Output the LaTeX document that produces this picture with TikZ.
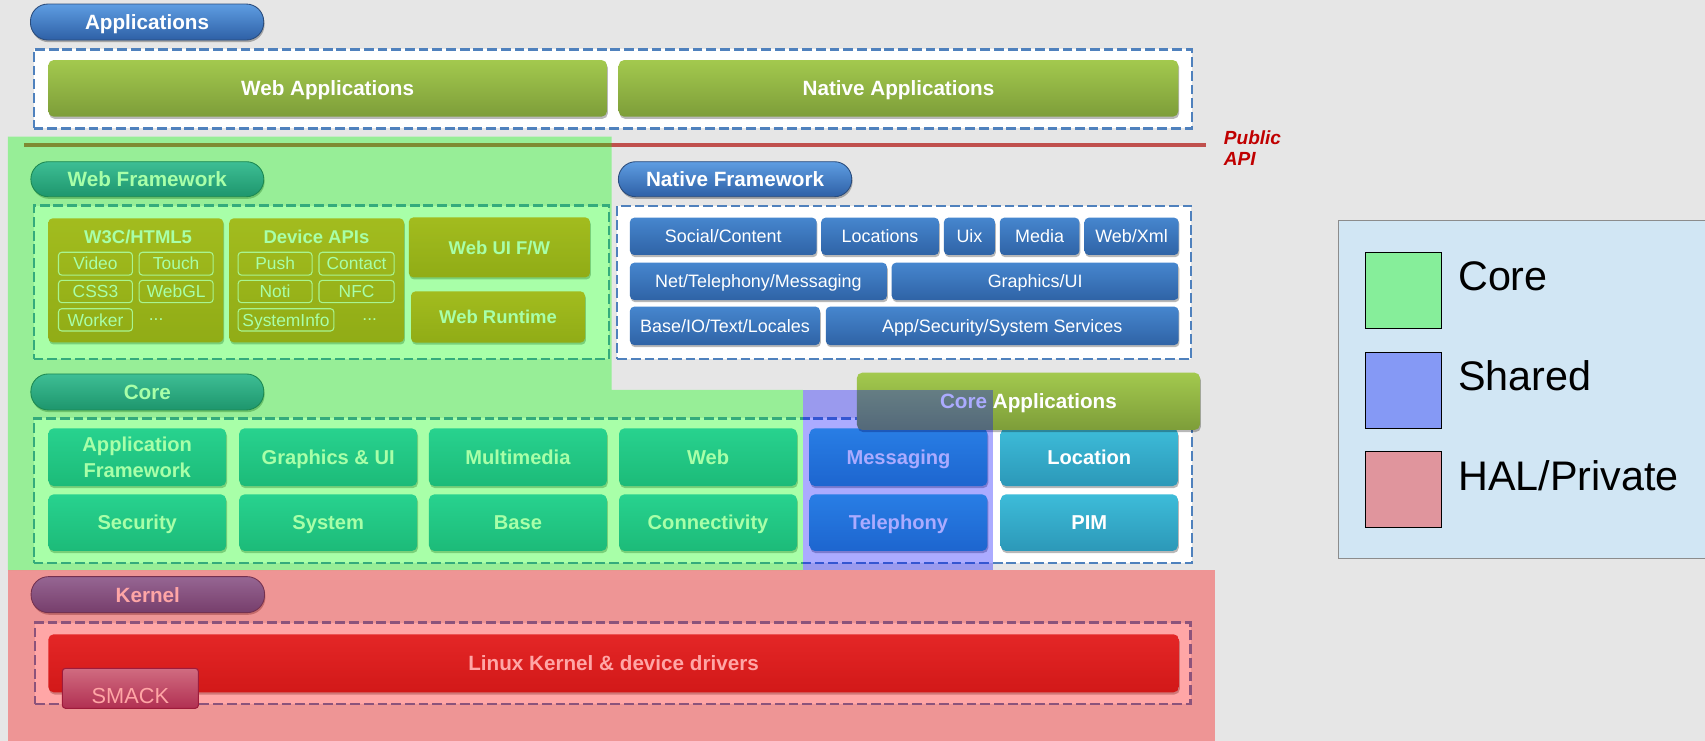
\documentclass[tikz,border=0pt]{standalone}
\usepackage{fontspec}
\setmainfont{Liberation Sans}
\usetikzlibrary{shadows}
\definecolor{bggrey}{HTML}{E6E6E6}
\definecolor{dashblue}{HTML}{4F81BD}
\definecolor{appT}{HTML}{A3C94E}
\definecolor{appB}{HTML}{7D9D39}
\definecolor{pillT}{HTML}{5E9DE2}
\definecolor{pillB}{HTML}{2E60A6}
\definecolor{pillD}{HTML}{2A4C7C}
\definecolor{natT}{HTML}{4686CE}
\definecolor{natB}{HTML}{2F63A6}
\definecolor{tealT}{HTML}{3DBCD9}
\definecolor{tealB}{HTML}{2C98B8}
\definecolor{orT}{HTML}{F79A2F}
\definecolor{orB}{HTML}{DC8222}
\definecolor{subline}{HTML}{FFF0DC}
\definecolor{kerT}{HTML}{D63C3C}
\definecolor{kerB}{HTML}{BA2626}
\definecolor{smT}{HTML}{B8A6C6}
\definecolor{smB}{HTML}{884A7E}
\definecolor{smD}{HTML}{6A2A5C}
\definecolor{apiline}{HTML}{C0504D}
\definecolor{apitext}{HTML}{C00000}
\definecolor{legbg}{HTML}{D1E6F4}
\definecolor{legdraw}{HTML}{8C8C8C}
\definecolor{lgcore}{HTML}{86EE9A}
\definecolor{lgshared}{HTML}{8599F5}
\definecolor{lghal}{HTML}{E0959D}
\newcommand\tb[7]{\node[#1,anchor=north west,minimum width={#5-#3},minimum height={#6-#4}] (#2) at (#3,#4) {#7};}
\begin{document}
\begin{tikzpicture}[x=1pt,y=-1pt,
  every node/.style={inner sep=0pt,outer sep=0pt},
  bshadow/.style={drop shadow={shadow xshift=0.8pt,shadow yshift=-2pt,opacity=0.28,fill=black}},
  pill/.style={rounded corners=16pt,top color=pillT,bottom color=pillB,draw=pillD,line width=0.8pt,text=white,font=\bfseries\fontsize{19}{21}\selectfont,text height=13.6pt,text depth=0pt,bshadow},
  dashbox/.style={draw=dashblue,fill=white,line width=2.2pt,dash pattern=on 9pt off 3.6pt},
  appbox/.style={rounded corners=5pt,top color=appT,bottom color=appB,text=white,font=\bfseries\fontsize{19}{21}\selectfont,text height=13.6pt,text depth=0pt,bshadow},
  natbox/.style={rounded corners=4pt,top color=natT,bottom color=natB,text=white,font=\fontsize{16.5}{18}\selectfont,text height=11.8pt,text depth=0pt,bshadow},
  orbox/.style={rounded corners=4pt,top color=orT,bottom color=orB,text=white,font=\bfseries\fontsize{17}{19}\selectfont,text height=12.2pt,text depth=0pt,bshadow},
  subbox/.style={rounded corners=3pt,draw=subline,line width=1pt,text=white,font=\fontsize{16}{18}\selectfont,text height=11.5pt,text depth=0pt},
  subtext/.style={text=white,font=\fontsize{16}{18}\selectfont},
  ortitle/.style={text=white,font=\bfseries\fontsize{17}{19}\selectfont,text height=12.2pt,text depth=0pt},
  corebox/.style={rounded corners=5pt,top color=tealT,bottom color=tealB,text=white,align=center,font=\bfseries\fontsize{18.5}{23.6}\selectfont,text height=13.2pt,text depth=0pt,bshadow},
  twoline/.style={text height={},text depth={}},
  kerbox/.style={rounded corners=5pt,top color=kerT,bottom color=kerB,text=white,font=\bfseries\fontsize{19}{21}\selectfont,text height=13.6pt,text depth=0pt,bshadow},
  smbox/.style={rounded corners=3pt,top color=smT,bottom color=smB,draw=smD,line width=1pt,text=white,font=\fontsize{20}{22}\selectfont,text height=28pt,text depth=0pt},
  ovgreen/.style={fill={rgb,255:red,0;green,255;blue,0},opacity=0.34},
  ovblue/.style={fill={rgb,255:red,0;green,0;blue,255},opacity=0.33},
  ovred/.style={fill={rgb,255:red,255;green,0;blue,0},opacity=0.35},
  legendbox/.style={fill=legbg,draw=legdraw,line width=1pt},
  lgsq/.style={draw=black,line width=0.8pt},
  lgtext/.style={anchor=base west,text=black,font=\fontsize{38}{42}\selectfont},
  apistyle/.style={draw=apiline,line width=3pt},
  apitextstyle/.style={text=apitext,align=left,font=\bfseries\itshape\fontsize{17.5}{19.3}\selectfont}
]
\useasboundingbox (0,0) rectangle (1568,681);
\fill[bggrey] (0,0) rectangle (1568,681);
% Applications
\tb{pill}{pApps}{28}{3.7}{242.5}{36.8}{Applications}
\tb{dashbox}{dApps}{31}{45.4}{1096}{118}{}
\tb{appbox}{webApps}{44.4}{55.2}{558.2}{107.3}{Web Applications}
\tb{appbox}{natApps}{569}{55.2}{1083.6}{107.3}{Native Applications}
% Web framework
\tb{pill}{pWebFW}{28.4}{148.7}{242.6}{180.9}{Web Framework}
\tb{dashbox}{dWebFW}{31}{189}{560}{330}{}
\tb{orbox}{w3c}{44.4}{200.8}{205.4}{314.8}{}
\tb{orbox}{devapi}{210.9}{200.8}{371.6}{314.8}{}
\tb{orbox}{webui}{376}{200}{542.5}{255}{Web UI F/W}
\tb{orbox}{webrt}{378}{268}{538}{315}{Web Runtime}
\node[ortitle] (w3ct) at (127,218) {W3C/HTML5};
\node[ortitle] (devt) at (291,218) {Device APIs};
\tb{subbox}{video}{53.8}{232}{121.8}{253}{Video}
\tb{subbox}{touch}{128}{232}{196}{253}{Touch}
\tb{subbox}{css}{53.8}{257.8}{121.8}{278.3}{CSS3}
\tb{subbox}{webgl}{128}{257.8}{196}{278.3}{WebGL}
\tb{subbox}{worker}{53.8}{283.9}{121.8}{304.4}{Worker}
\node[subtext] (dots1) at (143.6,294) {...};
\tb{subbox}{push}{219}{232}{287}{253}{Push}
\tb{subbox}{contact}{293.4}{232}{362.5}{253}{Contact}
\tb{subbox}{noti}{219}{257.8}{287}{278.3}{Noti}
\tb{subbox}{nfc}{293.4}{257.8}{362.5}{278.3}{NFC}
\tb{subbox}{sysinfo}{219}{283.9}{307}{304.4}{SystemInfo}
\node[subtext] (dots2) at (340,294) {...};
% Native framework
\tb{pill}{pNatFW}{568.7}{148.7}{783.3}{180.9}{Native Framework}
\tb{dashbox}{dNatFW}{567.6}{189.4}{1095.5}{330.4}{}
\tb{natbox}{social}{579.3}{200.2}{751}{234.5}{Social/Content}
\tb{natbox}{locs}{755.2}{200.2}{863.5}{234.5}{Locations}
\tb{natbox}{uix}{868.1}{200.2}{915}{234.5}{Uix}
\tb{natbox}{media}{919.5}{200.2}{992.7}{234.5}{Media}
\tb{natbox}{webxml}{997.3}{200.2}{1083.9}{234.5}{Web/Xml}
\tb{natbox}{nettel}{579.3}{241.6}{815.7}{275.9}{Net/Telephony/Messaging}
\tb{natbox}{gfxui}{820}{241.6}{1083.9}{275.9}{Graphics/UI}
\tb{natbox}{baseio}{579.3}{282}{754.1}{317.3}{Base/IO/Text/Locales}
\tb{natbox}{appsec}{759.4}{282}{1083.9}{317.3}{App/Security/System Services}
% Core
\tb{pill}{pCore}{28.4}{343.9}{242.6}{377}{Core}
\tb{dashbox}{dCore}{31}{384.7}{1096}{518}{}
\tb{corebox,twoline}{appfw}{44.4}{393.9}{208}{447}{Application\\Framework}
\tb{corebox}{gfx}{220}{393.9}{383.7}{447}{Graphics \& UI}
\tb{corebox}{mm}{394.5}{393.9}{558.2}{447}{Multimedia}
\tb{corebox}{web}{569.3}{393.9}{733}{447}{Web}
\tb{corebox}{msg}{744.5}{393.9}{908.1}{447}{Messaging}
\tb{corebox}{loc}{920.2}{393.9}{1083.3}{447}{Location}
\tb{corebox}{sec}{44.4}{454.6}{208}{506.7}{Security}
\tb{corebox}{sys}{220}{454.6}{383.7}{506.7}{System}
\tb{corebox}{base}{394.5}{454.6}{558.2}{506.7}{Base}
\tb{corebox}{conn}{569.3}{454.6}{733}{506.7}{Connectivity}
\tb{corebox}{tel}{744.5}{454.6}{908.1}{506.7}{Telephony}
\tb{corebox}{pim}{920.2}{454.6}{1083.3}{506.7}{PIM}
\tb{appbox}{coreapps}{788}{342.7}{1103.6}{395.4}{Core Applications}
% Kernel
\tb{pill}{pKernel}{28.6}{530.3}{243.3}{563.4}{Kernel}
\tb{dashbox}{dKernel}{32.2}{572.6}{1095}{647.4}{}
\tb{kerbox}{linux}{44.4}{583.3}{1084.2}{636.7}{Linux Kernel \& device drivers}
\tb{smbox}{smack}{57.3}{614.6}{182.5}{651.4}{SMACK}
% Public API line
\coordinate (apiL) at (22.5,133.3);
\coordinate (apiR) at (1109,133.3);
\draw[apistyle] (apiL) -- (apiR);
% overlays
\fill[ovgreen] (7.3,125.7) -- (562.5,125.7) -- (562.5,358.6) -- (738.3,358.6) -- (738.3,524.2) -- (7.3,524.2) -- cycle;
\fill[ovblue] (738.3,358.6) rectangle (913.5,524.2);
\fill[ovred] (7.3,524.2) rectangle (1117,681);
% Public API text
\node[apitextstyle,anchor=north west] (apitxt) at (1125.6,120.5) {Public\\API};
% Legend
\tb{legendbox}{legend}{1230.8}{203}{1580}{514}{}
\tb{lgsq,fill=lgcore}{sqCore}{1255.3}{232}{1325.2}{302}{}
\tb{lgsq,fill=lgshared}{sqShared}{1255.3}{324}{1325.2}{394}{}
\tb{lgsq,fill=lghal}{sqHal}{1255.3}{415.4}{1325.2}{485.3}{}
\node[lgtext] (tCore) at (1341,267.3) {Core};
\node[lgtext] (tShared) at (1341,359.3) {Shared};
\node[lgtext] (tHal) at (1341,451.3) {HAL/Private};
\end{tikzpicture}
\end{document}
